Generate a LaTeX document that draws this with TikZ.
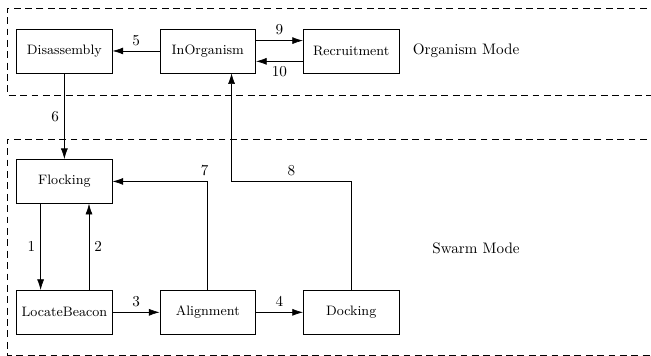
\documentclass[tikz,border=0pt]{standalone}
\usepackage{amsmath}
\usepackage{tikz}
\usetikzlibrary{arrows.meta}

\begin{document}
\begin{tikzpicture}[>={Latex[length=7pt,width=4.6pt]},
        state/.style={draw, font=\small, minimum width=2.22cm, minimum height=1.02cm},
        modebox/.style={dash pattern=on 4.5pt off 3pt}]
        \useasboundingbox (0,0) rectangle (15.07,8.24);

        % the two mode regions, open to the right
        \draw[modebox] (15.5,8.055) -- (0.16,8.055) -- (0.16,6.04) -- (15.5,6.04);
        \draw[modebox] (15.5,5.02) -- (0.16,5.02) -- (0.16,0.02) -- (15.5,0.02);
        \node (orgmode) at (10.79,7.06) {Organism Mode};
        \node (swarmmode) at (11.02,2.5) {Swarm Mode};

        % organism states
        \node[state] (dis) at (1.49,7.06) {Disassembly};
        \node[state] (ino) at (4.81,7.06) {InOrganism};
        \node[state] (rec) at (8.13,7.06) {Recruitment};

        % swarm states
        \node[state] (flo) at (1.49,4.04) {Flocking};
        \node[state] (loc) at (1.49,1.01) {LocateBeacon};
        \node[state] (ali) at (4.81,1.01) {Alignment};
        \node[state] (doc) at (8.13,1.01) {Docking};

        \draw[->] (ino) -- node[above] {5} (dis);
        \draw[->] ([yshift=0.24cm]ino.east) -- node[above] {9} ([yshift=0.24cm]rec.west);
        \draw[->] ([yshift=-0.24cm]rec.west) -- node[below] {10} ([yshift=-0.24cm]ino.east);
        \draw[->] (dis) -- node[left] {6} (flo);
        \draw[->] ([xshift=-0.55cm]flo.south) -- node[left] {1} ([xshift=-0.55cm]loc.north);
        \draw[->] ([xshift=0.57cm]loc.north) -- node[right] {2} ([xshift=0.57cm]flo.south);
        \draw[->] (loc) -- node[above] {3} (ali);
        \draw[->] (ali) -- node[above] {4} (doc);
        \draw[->] (ali.north) |- node[pos=0.5, above, xshift=-2pt] {7} (flo.east);
        \coordinate (in8) at ([xshift=0.55cm]ino.south);
        \draw[->] (doc.north) |- node[pos=0.75, above] {8} (in8 |- flo.east) -- (in8);
\end{tikzpicture}
\end{document}
